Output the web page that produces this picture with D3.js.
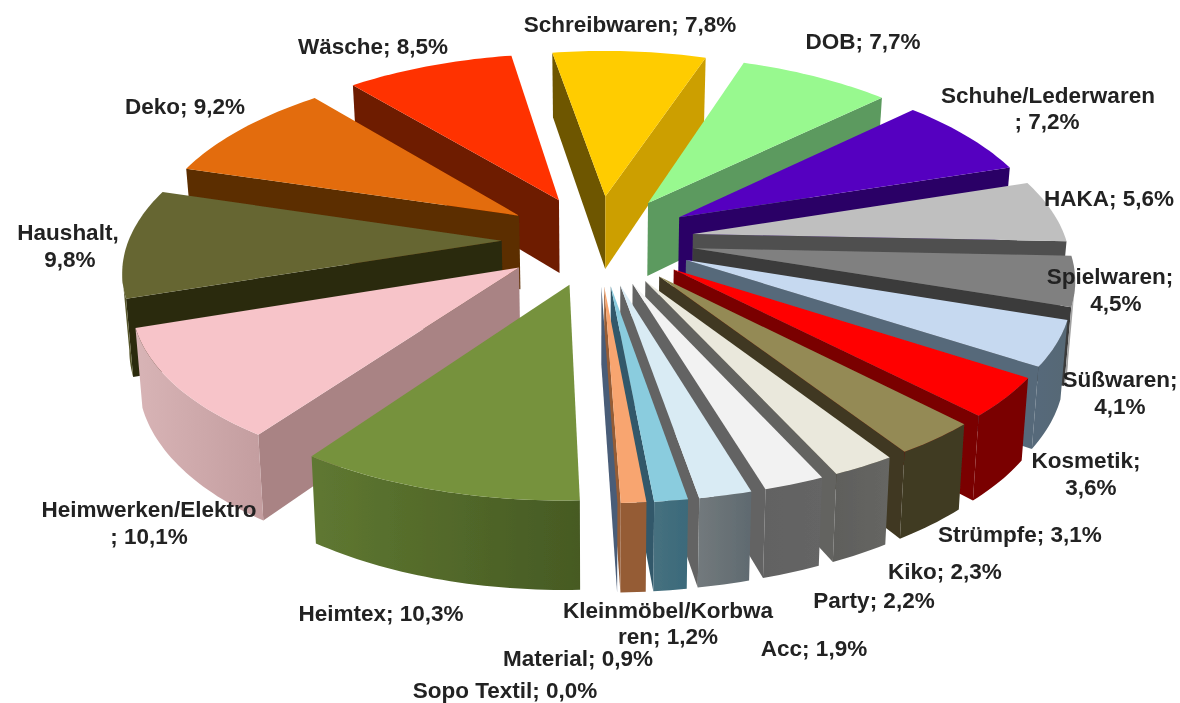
<!DOCTYPE html>
<html>
<head>
<meta charset="utf-8">
<title>Sortimentsanteile</title>
<style>
  html, body { margin: 0; background: #fff; }
  svg { display: block; }
  text { font-family: "Liberation Sans", Arial, sans-serif; font-weight: bold; font-size: 22.5px; fill: #222; }
</style>
</head>
<body>
<script src="https://d3js.org/d3.v7.min.js"></script>
<script>

var categories = ['Schreibwaren', 'DOB', 'Schuhe/Lederwaren', 'HAKA', 'Spielwaren', 'Süßwaren', 'Kosmetik',
    'Strümpfe', 'Kiko', 'Party', 'Acc', 'Kleinmöbel/Korbwaren', 'Material', 'Sopo Textil',
    'Heimtex', 'Heimwerken/Elektro', 'Haushalt', 'Deko', 'Wäsche'];

var values = [7.8, 7.7, 7.2, 5.6, 4.5, 4.1, 3.6, 3.1, 2.3, 2.2, 1.9, 1.2, 0.9, 0.0, 10.3, 10.1, 9.8, 9.2, 8.5];

// label lines as printed in the chart, wrapped where the original wraps
var labelLines = [
    ['Schreibwaren; 7,8%'], ['DOB; 7,7%'], ['Schuhe/Lederwaren', '; 7,2%'], ['HAKA; 5,6%'],
    ['Spielwaren;', '4,5%'], ['Süßwaren;', '4,1%'], ['Kosmetik;', '3,6%'], ['Strümpfe; 3,1%'],
    ['Kiko; 2,3%'], ['Party; 2,2%'], ['Acc; 1,9%'], ['Kleinmöbel/Korbwa', 'ren; 1,2%'],
    ['Material; 0,9%'], ['Sopo Textil; 0,0%'], ['Heimtex; 10,3%'], ['Heimwerken/Elektro', '; 10,1%'],
    ['Haushalt,', '9,8%'], ['Deko; 9,2%'], ['Wäsche; 8,5%']
];

// top face, side wall, rim start, rim end
var topColors = ['#ffcc00', '#98f98f', '#5500c0', '#bfbfbf', '#808080', '#c6d9f0', '#ff0000',
    '#948a54', '#eae8dc', '#f2f2f2', '#d9ebf4', '#8accde', '#f8a56f', '#4f6280',
    '#76923c', '#f7c4c9', '#666633', '#e36c09', '#ff3300'];
var startWall = ['#6e5600', '#5c9a5f', '#2b0066', '#4f4f4f', '#3a3a3a', '#56697a', '#990000',
    '#3f3820', '#636360', '#636363', '#636363', '#31596a', '#4a5d78', '#4a5d78',
    '#4a5f28', '#a98384', '#2b2b10', '#5c2e00', '#6e1a00'];
var endWall = ['#cc9f00', '#5c9a5f', '#2b0066', '#4f4f4f', '#3a3a3a', '#56697a', '#7a0000',
    '#3f3820', '#636360', '#636363', '#636363', '#31596a', '#955b35', '#4a5d78',
    '#4a5f28', '#a98384', '#2b2b10', '#5c2e00', '#6e1a00'];
var rimFrom = ['#cc9f00', '#5c9a5f', '#2b0066', '#4f4f4f', '#c9c9c9', '#566875', '#7a0000',
    '#403a22', '#666663', '#656565', '#5f6a70', '#3b6a7a', '#955b35', '#4a5d78',
    '#465a23', '#c49ea0', '#55552a', '#5c2e00', '#6e1a00'];
var rimTo = ['#cc9f00', '#5c9a5f', '#2b0066', '#4f4f4f', '#a0a0a0', '#56697a', '#7a0000',
    '#403a22', '#5f5f5c', '#626262', '#72797c', '#46707f', '#955b35', '#4a5d78',
    '#5f7831', '#d8b4b6', '#55552a', '#5c2e00', '#6e1a00'];

// label centre per line: [x, y]
var labelPos = [
    [[630, 24]], [[863, 41]], [[1048, 95], [1047, 121]], [[1109, 198]],
    [[1110, 276], [1116, 303]], [[1120, 379], [1120, 406]], [[1086, 460], [1091, 487]], [[1020, 534]],
    [[945, 571]], [[874, 600]], [[814, 648]], [[668, 610], [668, 636]],
    [[578, 658]], [[505, 690]], [[381, 613]], [[149, 509], [149, 536]],
    [[68, 232], [70, 259]], [[185, 106]], [[373, 46]]
];

var width = 1180, height = 703;

// perspective view of the tilted pie, unit radius
var cx = 598, cy = 240, scaleX = 373, scaleY = 175, perspX = 0.145, perspY = 0.13;
var explode = 0.258, thickness = 75, bottomShrink = 0.985;
var startDeg = -9.5;

function project(X, Y, down) {
    var f = down ? bottomShrink : 1;
    var w = 1 - perspY * Y;
    return [cx + f * scaleX * X / (1 - perspX * Y), cy + scaleY * Y / w + (down ? thickness / w : 0)];
}

var pie = d3.pie().sort(null).value(function (d) { return d; })
    .startAngle(startDeg * Math.PI / 180)
    .endAngle((startDeg + 360) * Math.PI / 180);

var arcs = pie(values).map(function (a) {
    var mid = (a.startAngle + a.endAngle) / 2;
    var ox = explode * Math.sin(mid), oy = -explode * Math.cos(mid);
    var steps = Math.max(1, Math.ceil((a.endAngle - a.startAngle) / 0.02));
    var angles = d3.range(steps + 1).map(function (i) {
        return a.startAngle + (a.endAngle - a.startAngle) * i / steps;
    });
    var rim = angles.map(function (t) { return [ox + Math.sin(t), oy - Math.cos(t)]; });
    return { index: a.index, apex: [ox, oy], rim: rim };
});

var line = d3.line();

var svg = d3.select('body').append('svg')
    .attr('width', width)
    .attr('height', height);

var defs = svg.append('defs');
defs.append('filter').attr('id', 'soft')
    .attr('x', 0).attr('y', 0).attr('width', 1).attr('height', 1)
    .append('feGaussianBlur').attr('stdDeviation', 0.7);
defs.append('filter').attr('id', 'softText')
    .attr('x', '-5%').attr('y', '-20%').attr('width', '110%').attr('height', '140%')
    .append('feGaussianBlur').attr('stdDeviation', 0.4);

var chart = svg.append('g').attr('filter', 'url(#soft)');
chart.append('rect').attr('width', width).attr('height', height).attr('fill', '#fff');

function wall(g, a, b, fill) {
    var top = [a, b].map(function (p) { return project(p[0], p[1], false); });
    if (top[1][0] - top[0][0] >= 0) return;   // faces away from the viewer
    var bottom = [b, a].map(function (p) { return project(p[0], p[1], true); });
    g.append('path').attr('d', line(top.concat(bottom)) + 'Z').attr('fill', fill);
}

// back to front
var order = arcs.slice().sort(function (p, q) {
    return project(p.apex[0], p.apex[1])[1] - project(q.apex[0], q.apex[1])[1];
});

order.forEach(function (s) {
    var i = s.index;
    var g = chart.append('g').attr('class', 'slice');
    var last = s.rim[s.rim.length - 1];

    wall(g, s.apex, s.rim[0], startWall[i]);
    wall(g, last, s.apex, endWall[i]);

    // outer wall, only the stretch that turns towards the viewer
    var run = s.rim.filter(function (p, k) {
        var prev = s.rim[k - 1], next = s.rim[k + 1];
        var goesLeft = function (u, v) { return project(v[0], v[1])[0] < project(u[0], u[1])[0]; };
        return (next && goesLeft(p, next)) || (prev && goesLeft(prev, p));
    });
    if (run.length > 1) {
        var top = run.map(function (p) { return project(p[0], p[1], false); });
        var bottom = run.slice().reverse().map(function (p) { return project(p[0], p[1], true); });
        var grad = defs.append('linearGradient').attr('id', 'rim' + i)
            .attr('gradientUnits', 'userSpaceOnUse')
            .attr('x1', top[0][0]).attr('x2', top[top.length - 1][0])
            .attr('y1', 0).attr('y2', 0);
        grad.append('stop').attr('offset', 0).attr('stop-color', rimFrom[i]);
        grad.append('stop').attr('offset', 1).attr('stop-color', rimTo[i]);
        g.append('path').attr('d', line(top.concat(bottom)) + 'Z').attr('fill', 'url(#rim' + i + ')');
    }

    var face = [s.apex].concat(s.rim).map(function (p) { return project(p[0], p[1], false); });
    g.append('path').attr('d', line(face) + 'Z').attr('fill', topColors[i]);
});

// labels go over the pie
var labels = svg.append('g').attr('class', 'labels');
categories.forEach(function (name, i) {
    labelLines[i].forEach(function (txt, k) {
        labels.append('text')
            .attr('x', labelPos[i][k][0])
            .attr('y', labelPos[i][k][1])
            .attr('dy', '.35em')
            .attr('text-anchor', 'middle')
            .attr('filter', 'url(#softText)')
            .text(txt);
    });
});

</script>
</body>
</html>
